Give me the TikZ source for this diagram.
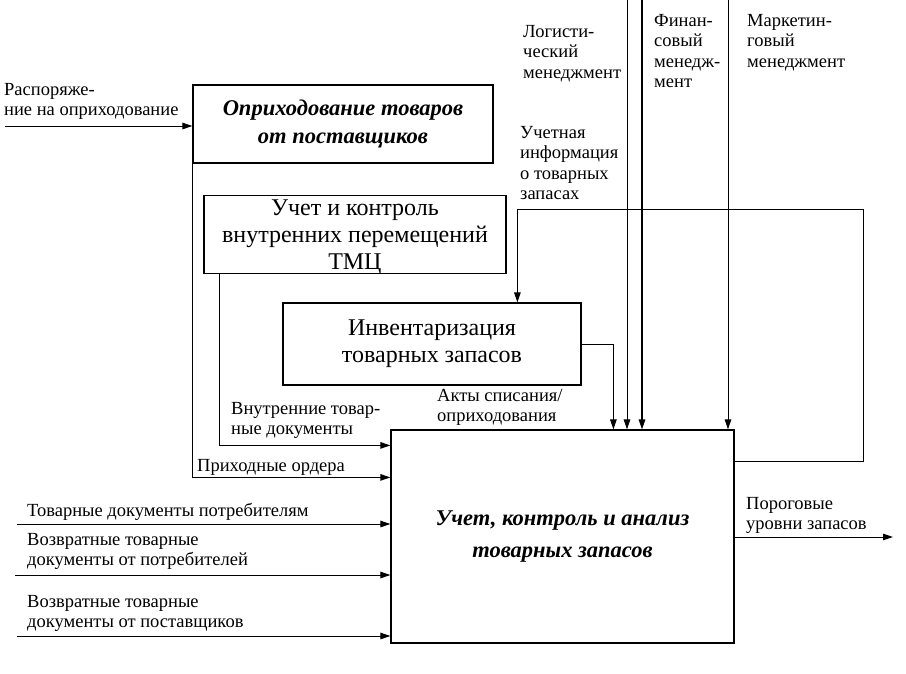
\documentclass[tikz,border=0pt]{standalone}
\usepackage{fontspec}
\setmainfont{Liberation Serif}
\usepackage{tikz}
\usetikzlibrary{arrows.meta}

\begin{document}
\begin{tikzpicture}[x=1pt,y=-1pt,
  box/.style={draw,line width=1.2pt,inner sep=0pt,align=center},
  boxtxt/.style={font=\fontsize{24}{27}\selectfont},
  boxbi/.style={font=\fontsize{22.5}{28}\selectfont\bfseries\itshape},
  lbl/.style={inner sep=0pt,align=left,anchor=north west,font=\fontsize{18.5}{20.5}\selectfont},
  arr/.style={line width=1pt,-{Triangle[length=10pt,width=6.5pt]}}]
\useasboundingbox (0,0) rectangle (906,673);
% functional blocks
\node[box,boxbi,minimum width=300pt,minimum height=78pt] (opr) at (343,124) {Оприходование товаров\\от поставщиков};
\node[box,boxtxt,minimum width=302pt,minimum height=78pt] (vnutr) at (355,234.5) {Учет и контроль\\внутренних перемещений\\\raisebox{0pt}[\height][0pt]{ТМЦ}};
\node[box,boxtxt,minimum width=298pt,minimum height=82pt] (inv) at (432,344) {Инвентаризация\\товарных запасов};
\node[box,boxbi,minimum width=343pt,minimum height=213pt,font=\fontsize{22.5}{31.5}\selectfont\bfseries\itshape] (uch) at (562.5,536.5) {Учет, контроль и анализ\\товарных запасов};
% free ends
\coordinate (rasp) at (5,126);
\coordinate (log) at (627,0);
\coordinate (fin) at (642,0);
\coordinate (mkt) at (728,0);
\coordinate (fb) at (863,209);
\coordinate (tp) at (17,524);
\coordinate (vp) at (15,575);
\coordinate (vs) at (17,636);
\coordinate (por) at (893,537);
% connectors
\draw[arr] (rasp) -- (rasp -| opr.west);
\draw[arr] (opr.south west) |- ([yshift=-48pt]uch.north west);
\draw[arr] ([xshift=16pt]vnutr.south west) |- ([yshift=-16pt]uch.north west);
\draw[arr] ([yshift=-32pt]uch.north east) -| (fb) -| ([xshift=235pt]inv.north west);
\draw[arr] (inv.east) -| ([xshift=223pt]uch.north west);
\draw[arr] (log) -- (log |- uch.north);
\draw[arr,line width=1.6pt] (fin) -- (fin |- uch.north);
\draw[arr] (mkt) -- (mkt |- uch.north);
\draw[arr] (tp) -- (tp -| uch.west);
\draw[arr] (vp) -- (vp -| uch.west);
\draw[arr] (vs) -- (vs -| uch.west);
\draw[arr] (por -| uch.east) -- (por);
% labels
\node[lbl] (lrasp) at (4,83) {Распоряже-\\ние на оприходование};
\node[lbl] (llog) at (523,25) {Логисти-\\ческий\\менеджмент};
\node[lbl] (lfin) at (654,14) {Финан-\\совый\\менедж-\\мент};
\node[lbl] (lmkt) at (747,14) {Маркетин-\\говый\\менеджмент};
\node[lbl] (lfb) at (520,126) {Учетная\\информация\\о товарных\\запасах};
\node[lbl] (lvn) at (231,402) {Внутренние товар-\\ные документы};
\node[lbl] (lakt) at (437,389) {Акты списания/\\оприходования};
\node[lbl] (lpr) at (197,459) {Приходные ордера};
\node[lbl] (ltp) at (27,503) {Товарные документы потребителям};
\node[lbl] (lvp) at (27,533) {Возвратные товарные\\документы от потребителей};
\node[lbl] (lvs) at (27,595) {Возвратные товарные\\документы от поставщиков};
\node[lbl] (lpor) at (746,497) {Пороговые\\уровни запасов};
\end{tikzpicture}
\end{document}
